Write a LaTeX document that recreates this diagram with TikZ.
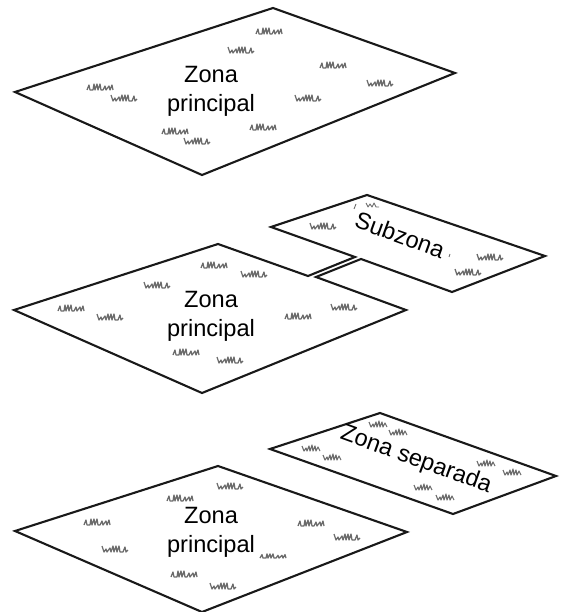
\documentclass[tikz,border=0pt]{standalone}
\usepackage{fontspec}
\setmainfont{Liberation Sans}
\tikzset{
  plot/.style={draw=black!90,line width=2.1pt,line join=miter},
  tuft/.style={draw=black!58,line width=1.25pt,line join=round},
  lbl/.style={align=center,font=\fontsize{23.6}{29}\selectfont,inner sep=0pt,text=black},
  rlbl/.style={font=\fontsize{23.6}{28}\selectfont,inner sep=0pt,text=black},
  pics/grassa/.style={code={\draw[tuft] (-13,3)--(-11,-2)--(-10,3)--(-7,3)--(-6,-3)--(-5,3)--(-3,-3)--(-2,3)--(0,-3)--(1,3)--(3,3)--(5,-1)--(6,3)--(9,-1)--(10,3)--(12,-2)--(13,3);}},
  pics/grassb/.style={code={\draw[tuft] (-13,-3)--(-11,3)--(-9,0)--(-8,3)--(-5,-1)--(-4,3)--(-2,-3)--(-1,3)--(1,-3)--(2,3)--(4,-3)--(5,3)--(8,3)--(10,-2)--(11,3)--(13,1);}},
  pics/grassc/.style={code={\draw[tuft,line width=1.1pt] (-9,-2)--(-7,3)--(-5,0)--(-4,3)--(-2,-2)--(-1,3)--(1,-3)--(2,3)--(4,-2)--(5,3)--(7,-1)--(9,3);}}
}
\begin{document}
\begin{tikzpicture}[x=1pt,y=-1pt]
\useasboundingbox (0,0) rectangle (563,612);
% top plot
\coordinate (al) at (15,92); \coordinate (at) at (273,8); \coordinate (ar) at (455,73); \coordinate (ab) at (202,175);
\draw[plot] (al)--(at)--(ar)--(ab)--cycle;
\foreach \x/\y in {269/31,100/87,175/131,263/127,333/65} \pic at (\x,\y) {grassa};
\foreach \x/\y in {241/50,124/98,197/141,308/98,380/83} \pic at (\x,\y) {grassb};
\node[lbl] (t1) at (211,91) {Zona\\principal};
% middle plot with subzone
\coordinate (bl) at (14,310); \coordinate (bt) at (218,244); \coordinate (bn) at (308,276); \coordinate (bm) at (316,277); \coordinate (br) at (406,310); \coordinate (bb) at (202,393);
\coordinate (sl) at (271,227); \coordinate (st) at (367,195); \coordinate (sr) at (545,256); \coordinate (sb) at (452,292); \coordinate (sn) at (355,257); \coordinate (sm) at (361,259);
\draw[plot] (sn)--(sl)--(st)--(sr)--(sb)--(sm)--(bm)--(br)--(bb)--(bl)--(bt)--(bn)--cycle;
\foreach \x/\y in {214/265,71/308,186/352,298/316} \pic at (\x,\y) {grassa};
\foreach \x/\y in {254/274,157/285,110/317,230/360,344/307,323/226,490/257,468/272} \pic at (\x,\y) {grassb};
\draw[tuft,line width=.9pt] (354,209)--(356,204) (366,203)--(368,207)--(370,204)--(372,207)--(374,203)--(376,207)--(379,207) (449,257)--(450,254);
\node[lbl] (t2) at (211,316) {Zona\\principal};
\node[rlbl,rotate=-20] (t3) at (400,235) {Subzona};
% bottom plot with separate zone
\coordinate (cl) at (15,531); \coordinate (ct) at (218,466); \coordinate (cr) at (407,532); \coordinate (cb) at (202,612);
\coordinate (dl) at (270,449); \coordinate (dt) at (380,413); \coordinate (dr) at (556,476); \coordinate (db) at (453,514);
\draw[plot] (cl)--(ct)--(cr)--(cb)--cycle;
\draw[plot] (dl)--(dt)--(dr)--(db)--cycle;
\foreach \x/\y in {180/498,97/522,311/523,184/574} \pic at (\x,\y) {grassa};
\pic[yscale=.7] at (273,556) {grassa};
\foreach \x/\y in {230/486,115/549,347/537,223/586} \pic at (\x,\y) {grassb};
\foreach \x/\y in {378/424,398/432,311/448,332/457,486/463,512/472,423/487,445/497} \pic at (\x,\y) {grassc};
\node[lbl] (t4) at (211,532) {Zona\\principal};
\node[rlbl,rotate=-20] (t5) at (416,460) {Zona separada};
\end{tikzpicture}
\end{document}
